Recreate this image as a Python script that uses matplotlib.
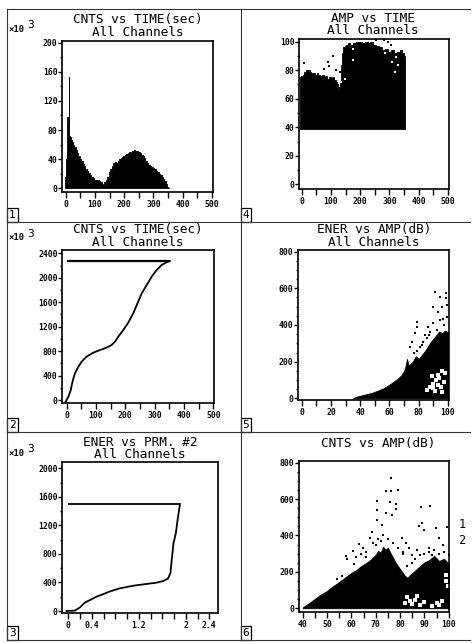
import matplotlib
matplotlib.use('Agg')
import matplotlib.pyplot as plt
from matplotlib.patches import Rectangle
from matplotlib.lines import Line2D
from matplotlib.transforms import Affine2D

W, H = 473, 643

# ---- panel 1: CNTS vs TIME(sec), counts x10^3 per bin
hist_time = [-4, -2, 2, 4, 7, 10, 12, 14, 17, 20, 24, 28, 32, 36, 40, 45, 50, 55, 60, 65,
             70, 75, 80, 85, 90, 95, 100, 105, 110, 115, 120, 125, 130, 135, 140, 145, 150, 155, 160, 165,
             170, 175, 180, 185, 190, 195, 200, 205, 210, 215, 220, 225, 230, 235, 240, 245, 250, 255, 260, 265,
             270, 275, 280, 285, 290, 295, 300, 305, 310, 315, 320, 325, 330, 335, 340, 345, 350, 352]
hist_cnts = [0, 15, 40, 95, 98, 90, 153, 72, 70, 67, 64, 60, 57, 52, 49, 45, 40, 37, 33, 30,
             27, 24, 21, 18, 16, 14, 12, 11, 11, 10, 9, 6, 5, 8, 11, 16, 22, 27, 31, 35,
             36, 35, 38, 40, 41, 43, 45, 46, 47, 49, 50, 49, 51, 52, 51, 51, 50, 48, 46, 45,
             41, 38, 35, 32, 31, 29, 28, 27, 24, 22, 20, 18, 16, 13, 10, 6, 2, 0]

# ---- panel 2: cumulative CNTS vs TIME(sec), x10^3
cum_time = [-5, 6, 14, 20, 28, 40, 51, 68, 91, 114, 136, 153, 165, 176, 193, 210, 227, 244,
            256, 273, 290, 307, 324, 341, 352]
cum_cnts = [-40, 55, 164, 300, 436, 545, 627, 709, 775, 818, 856, 900, 955, 1036, 1145, 1265,
            1418, 1609, 1745, 1882, 2018, 2127, 2209, 2253, 2275]

# ---- panel 3: ENER vs PRM. #2, x10^3
prm2 = [-0.03, 0.11, 0.2, 0.28, 0.37, 0.48, 0.6, 0.71, 0.88, 1.11, 1.33, 1.5, 1.62, 1.7,
        1.74, 1.76, 1.79, 1.83, 1.86, 1.89, 1.9]
ener_cum = [0, 5, 51, 117, 154, 201, 238, 276, 318, 355, 379, 397, 421, 458, 537, 715, 949,
            1089, 1276, 1439, 1500]

# ---- panel 4: AMP vs TIME (dense hit cloud: floor + upper envelope)
amp_time = [-6, -2, 2, 6, 10, 14, 18, 22, 26, 30, 36, 42, 48, 54, 60, 66, 72, 78, 84, 90,
            96, 102, 108, 114, 118, 122, 126, 130, 134, 137, 140, 145, 150, 156, 162, 170, 180, 190, 200, 210,
            220, 230, 240, 250, 260, 270, 280, 290, 300, 310, 320, 330, 340, 348, 353]
amp_top = [75, 76, 75, 77, 79, 78, 80, 79, 80, 79, 78, 78, 77, 78, 77, 76, 77, 75, 76, 74,
           75, 74, 75, 73, 72, 70, 67, 68, 72, 84, 92, 96, 97, 98, 99, 98, 99, 100, 100, 99,
           100, 99, 100, 98, 97, 96, 94, 95, 93, 94, 92, 93, 94, 92, 90]
amp_floor = 38.5
amp_out_t = [7, 76, 89, 94, 108, 118, 131, 255, 282, 296, 305]
amp_out_a = [85, 81, 86, 83, 90, 80, 79, 101, 101, 100, 98]
amp_hole_t = [134, 149, 176, 176, 285, 308, 319, 322, 330]
amp_hole_a = [72, 74, 87, 95, 92, 86, 79, 89, 84]

# ---- panel 5: ENER vs AMP(dB)
ea_amp = [35, 37, 40, 44, 48, 52, 56, 60, 63, 66, 68, 70, 71, 72, 73, 74, 76, 78, 80, 82,
          84, 86, 88, 90, 92, 94, 96, 98, 100]
ea_top = [0, 8, 14, 22, 30, 42, 55, 75, 92, 110, 125, 150, 175, 215, 180, 185, 200, 230, 215, 235,
          255, 280, 305, 325, 345, 365, 355, 370, 360]
ea_hole_amp = [86, 88, 89, 90, 91, 92, 93, 94, 95, 96, 97, 98, 93, 90, 96]
ea_hole_ener = [45, 60, 120, 80, 40, 100, 130, 110, 60, 150, 90, 140, 75, 55, 35]
ea_out_amp = [91.1, 98.6, 98.6, 94.5, 89.5, 93.4, 95.7, 99.1, 78.6, 78.6, 77.4, 84.3, 90, 94.5,
              99.1, 86.6, 74, 75.2, 83.1, 92.3, 97, 88, 81, 79, 85.5, 87, 96.5, 82.5, 76.5]
ea_out_ener = [582, 573, 546, 555, 500, 473, 500, 509, 418, 391, 355, 345, 409, 427,
               446, 391, 282, 309, 309, 373, 400, 360, 280, 260, 330, 345, 430, 290, 250]

# ---- panel 6: CNTS vs AMP(dB)
ca_amp = [40, 42, 44, 46, 48, 50, 52, 54, 56, 58, 60, 62, 64, 66, 68, 70, 71, 72, 73, 74,
          75, 76, 78, 80, 82, 83, 84, 86, 88, 90, 92, 94, 96, 98, 100]
ca_top = [5, 22, 42, 62, 80, 95, 118, 135, 155, 175, 195, 210, 232, 248, 268, 295, 315, 305, 338, 322,
          332, 305, 255, 215, 178, 168, 182, 205, 230, 252, 265, 288, 260, 272, 245]
ca_hole_amp = [82, 83, 84, 85, 86, 88, 90, 93, 95, 96, 97, 99, 99, 99.5, 87]
ca_hole_cnts = [30, 60, 40, 25, 45, 20, 35, 15, 30, 20, 40, 150, 180, 120, 70]
ca_out_amp = [76.4, 74.1, 76.1, 79.2, 70.4, 75.7, 78.5, 78.5, 88.4, 92.1, 70.7, 74.1, 76.8, 70.4,
              87.7, 89.8, 89.1, 99.2, 63.2, 80.6, 82.6, 81.3, 67.6, 64.9, 94.6, 95.9, 87, 91.8,
              60.5, 57.8, 72.5, 68.5, 97.5, 85, 83.5,
              56, 58, 62, 64, 66, 69, 71, 73, 75, 77, 79, 81, 85, 86, 88, 90, 92, 94, 96, 98, 100,
              66, 70, 72, 61, 54, 83, 93]
ca_out_cnts = [714, 644, 644, 650, 591, 586, 573, 545, 556, 560, 540, 522, 513, 485,
               452, 431, 467, 448, 353, 385, 357, 311, 386, 332, 441, 385, 320, 330,
               313, 286, 460, 420, 350, 290, 330,
               175, 270, 280, 300, 310, 360, 380, 400, 380, 360, 330, 300, 250, 270, 290, 300,
               310, 320, 300, 310, 290, 280, 350, 370, 245, 160, 230, 295]

# ---- ticks
time_major = [0, 100, 200, 300, 400, 500]
time_minor = [50, 150, 250, 350, 450]
p3_xticks = [0, 0.2, 0.4, 0.6, 0.8, 1.0, 1.2, 1.4, 1.6, 1.8, 2.0, 2.2, 2.4]
p3_xlabels = ['0', '', '0.4', '', '', '', '1.2', '', '', '', '2', '', '2.4']

plt.rcParams['font.family'] = 'DejaVu Sans Mono'
plt.rcParams['font.weight'] = 'bold'

fig = plt.figure(figsize=(W / 100, H / 100), dpi=100)
px = Affine2D().scale(1 / W, -1 / H).translate(0, 1) + fig.transFigure


def make_ax(box, xlim, ylim):
    l, t, r, b = box
    ax = fig.add_axes([l / W, 1 - b / H, (r - l) / W, (b - t) / H])
    ax.set_xlim(*xlim)
    ax.set_ylim(*ylim)
    for s in ax.spines.values():
        s.set_linewidth(1.2)
    ax.tick_params(which='both', direction='out', width=1.0, labelsize=5.8, color='black')
    ax.tick_params(axis='y', which='major', length=2.6, pad=0.8)
    ax.tick_params(axis='y', which='minor', length=1.5)
    ax.tick_params(axis='x', which='both', length=4.0, pad=1.8)
    return ax


def title(x, y, text, size=9.2):
    fig.text(x / W, 1 - y / H, text, ha='center', va='center', fontsize=size,
             fontweight='normal', family='DejaVu Sans Mono')


def x10(y):
    fig.text(8 / W, 1 - y / H, '\u00d710', ha='left', va='center', fontsize=6.5, fontweight='bold')
    fig.text(27 / W, 1 - (y - 4) / H, '3', ha='left', va='center', fontsize=8, fontweight='normal')


# panel 1
ax1 = make_ax((62.3, 40.7, 213.3, 191.5), (-11.6, 504.4), (-4.4, 202.7))
ax1.fill_between(hist_time, hist_cnts, 0, step='mid', color='black', lw=0.6)
ax1.set_xticks(time_major)
ax1.set_xticks(time_minor, minor=True)
ax1.set_yticks(range(0, 201, 40))
ax1.set_yticks(range(20, 200, 40), minor=True)
title(138, 19.5, 'CNTS vs TIME(sec)')
title(138, 32, 'All Channels')
x10(29)

# panel 2
ax2 = make_ax((62.3, 250, 214.3, 403), (-14.8, 503.4), (-49, 2454))
ax2.plot(cum_time, cum_cnts, color='black', lw=1.3)
ax2.hlines(cum_cnts[-1], 0, cum_time[-1], color='black', lw=1.6)
ax2.set_xticks(time_major)
ax2.set_xticks(time_minor, minor=True)
ax2.set_yticks(range(0, 2401, 400))
ax2.set_yticks(range(200, 2400, 400), minor=True)
title(138, 230, 'CNTS vs TIME(sec)')
title(138, 242.5, 'All Channels')
x10(238)

# panel 3
ax3 = make_ax((62.3, 462.3, 218.3, 613.3), (-0.102, 2.553), (-32, 2084))
ax3.plot(prm2, ener_cum, color='black', lw=1.3)
ax3.hlines(ener_cum[-1], 0, prm2[-1], color='black', lw=1.3)
ax3.set_xticks(p3_xticks, p3_xlabels)
ax3.set_yticks(range(0, 2001, 400))
ax3.set_yticks(range(200, 2000, 400), minor=True)
title(140, 443, 'ENER vs PRM. #2')
title(140, 455, 'All Channels')
x10(453)

# panel 4
ax4 = make_ax((299.3, 39.3, 449.3, 189.3), (-8.2, 504.4), (-3.5, 101.7))
ax4.fill_between(amp_time, amp_floor, amp_top, step='mid', color='black', lw=0.6)
ax4.plot(amp_out_t, amp_out_a, 's', color='black', ms=1.8, mew=0)
ax4.plot(amp_hole_t, amp_hole_a, 's', color='white', ms=1.8, mew=0)
ax4.set_xticks(time_major)
ax4.set_xticks(time_minor, minor=True)
ax4.set_yticks(range(0, 101, 20))
ax4.set_yticks(range(10, 100, 20), minor=True)
title(373, 18, 'AMP vs TIME')
title(373, 30.5, 'All Channels')

# panel 5
ax5 = make_ax((297.7, 250, 449.3, 400), (-2.7, 100.9), (-9, 809))
ax5.fill_between(ea_amp, 0, ea_top, color='black', lw=0.6)
ax5.plot(ea_hole_amp, ea_hole_ener, 's', color='white', ms=2.2, mew=0)
ax5.plot(ea_out_amp, ea_out_ener, 's', color='black', ms=1.8, mew=0)
ax5.set_xticks(range(0, 101, 20))
ax5.set_xticks(range(10, 100, 20), minor=True)
ax5.set_yticks(range(0, 801, 200))
ax5.set_yticks([v for v in range(50, 800, 50) if v % 200], minor=True)
title(374, 230, 'ENER vs AMP(dB)')
title(374, 242, 'All Channels')

# panel 6
ax6 = make_ax((299.3, 460.7, 449.3, 611.7), (38.6, 100.2), (-19, 811))
ax6.fill_between(ca_amp, 0, ca_top, color='black', lw=0.6)
ax6.plot(ca_hole_amp, ca_hole_cnts, 's', color='white', ms=2.2, mew=0)
ax6.plot(ca_out_amp, ca_out_cnts, 's', color='black', ms=1.8, mew=0)
ax6.set_xticks(range(40, 101, 10))
ax6.set_xticks(range(45, 100, 10), minor=True)
ax6.set_yticks(range(0, 801, 200))
ax6.set_yticks([v for v in range(50, 800, 50) if v % 200], minor=True)
title(378, 443, 'CNTS vs AMP(dB)')
fig.text(462 / W, 1 - 524 / H, '1', ha='center', va='center', fontsize=8.5, fontweight='normal')
fig.text(462 / W, 1 - 541 / H, '2', ha='center', va='center', fontsize=8.5, fontweight='normal')

# page frame and dividers
frame = [((7, 9), (470, 9)), ((7, 9), (7, 640)), ((7, 640), (470, 640)),
         ((240.5, 9), (240.5, 640)), ((7, 221.5), (470, 221.5)), ((7, 432), (470, 432))]
for (x0, y0), (x1, y1) in frame:
    fig.add_artist(Line2D([x0, x1], [y0, y1], transform=px, color='0.2', lw=0.8))

# numbered corner boxes
for n, (bx, by) in zip('123456', [(7, 207.5), (7, 418), (7, 626), (240.5, 207.5), (240.5, 418), (240.5, 626)]):
    fig.add_artist(Rectangle((bx, by), 10.5, 14, transform=px, fill=False, ec='black', lw=0.9))
    fig.text((bx + 5.3) / W, 1 - (by + 7.5) / H, n, ha='center', va='center', fontsize=8,
             fontweight='normal')

fig.savefig('out.png', dpi=100)
